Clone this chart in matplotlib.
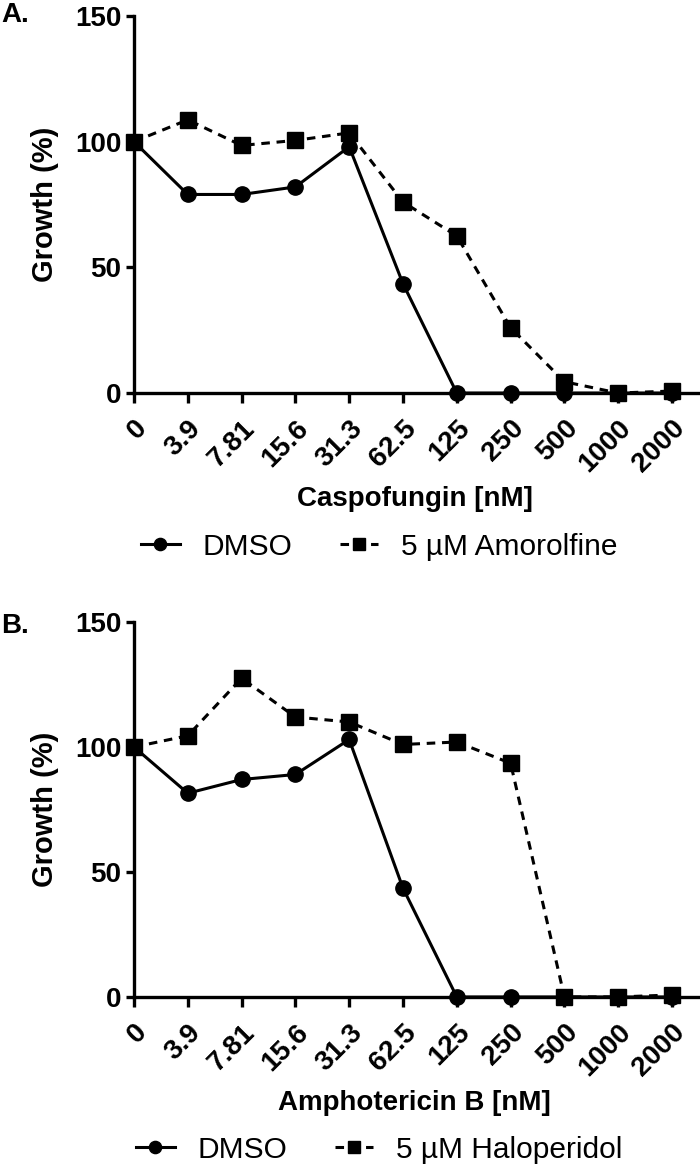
import numpy as np
import matplotlib
matplotlib.use('Agg')
from matplotlib import pyplot as plt

# concentrations (same for both panels)
conc_labels = ['0', '3.9', '7.81', '15.6', '31.3', '62.5', '125', '250', '500', '1000', '2000']

# panel A: caspofungin
casp_dmso = [100, 79, 79, 82, 98, 43.5, 0, 0, 0, 0, 0]
casp_amorolfine = [100, 108.7, 98.5, 100.5, 103.5, 76, 62.5, 26, 4.5, 0, 0.8]

# panel B: amphotericin B
ampho_dmso = [100, 81.5, 87, 89, 103, 43.5, 0, 0, 0, 0, 0]
ampho_haloperidol = [100, 104.5, 127.5, 112, 110, 101, 102, 93.5, 0, 0, 0.8]

panels = [
    ('A.', 'Caspofungin [nM]', casp_dmso, casp_amorolfine, '5 µM Amorolfine'),
    ('B.', 'Amphotericin B [nM]', ampho_dmso, ampho_haloperidol, '5 µM Haloperidol'),
]

plt.rcParams['font.family'] = ['Liberation Sans', 'DejaVu Sans']

fig = plt.figure(figsize=(7.0, 11.67), dpi=100)

# axes boxes in figure fractions (left, bottom, width, height)
boxes = [(0.1914, 0.6632, 0.8086, 0.3231),
         (0.1914, 0.1457, 0.8086, 0.3213)]
panel_label_y = [0.998, 0.4747]

x = np.arange(len(conc_labels))

for (tag, xlabel, dmso, treated, treated_name), box, ly in zip(panels, boxes, panel_label_y):
    ax = fig.add_axes(box)
    ax.plot(x, treated, color='black', linestyle=(0, (2.8, 2.2)), linewidth=2.2,
            marker='s', markersize=11, clip_on=False, zorder=3, label=treated_name)
    ax.plot(x, dmso, color='black', linestyle='-', linewidth=2.2,
            marker='o', markersize=11, clip_on=False, zorder=4, label='DMSO')

    ax.set_xlim(0, 10.52)
    ax.set_ylim(0, 150)
    ax.set_yticks([0, 50, 100, 150])
    ax.set_xticks(x)
    ax.set_xticklabels(conc_labels, rotation=45, ha='right', rotation_mode='anchor')

    for s in ['top', 'right']:
        ax.spines[s].set_visible(False)
    for s in ['left', 'bottom']:
        ax.spines[s].set_linewidth(2.4)
    ax.tick_params(axis='both', direction='out', width=2.4, colors='black')
    ax.tick_params(axis='y', length=6, pad=3)
    ax.tick_params(axis='x', length=7, pad=9)
    for lab in ax.get_xticklabels() + ax.get_yticklabels():
        lab.set_fontweight('bold')
        lab.set_fontsize(20)

    ax.set_ylabel('Growth (%)', fontsize=21, fontweight='bold')
    ax.yaxis.set_label_coords(-0.157, 0.5)
    ax.yaxis.label.set_va('center')
    ax.set_xlabel(xlabel, fontsize=20, fontweight='bold')
    ax.xaxis.set_label_coords(0.496, -0.282)
    ax.xaxis.label.set_va('center')

    handles, labels = ax.get_legend_handles_labels()
    ax.legend(handles[::-1], labels[::-1], loc='center', bbox_to_anchor=(0.433, -0.408),
              ncol=2, frameon=False, fontsize=21.5, handlelength=1.3, handletextpad=0.75,
              columnspacing=1.6, markerscale=0.8)

    fig.text(0.002, ly, tag, fontsize=20, fontweight='bold', ha='left', va='top')

fig.savefig('out.png', dpi=100)
